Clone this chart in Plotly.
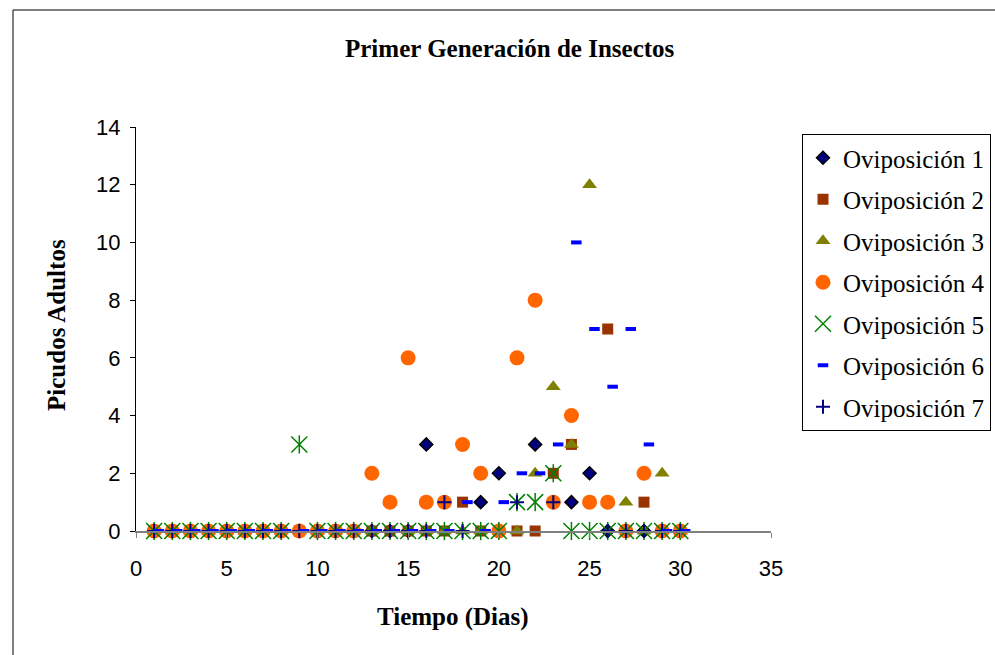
import plotly.graph_objects as go

days = list(range(1, 31))

ovi1 = [0]*15 + [3, None, None, 1, 2, None, 3, None, 1, 2, 0, 0, 0, 0, 0]
ovi2 = [0]*17 + [1, 0, 0, 0, 0, 2, 3, None, 7, 0, 1, 0, 0]
ovi3 = [0]*13 + [1, 0, 0, 0, 0, 0, 0, 0, 2, 5, 3, 12, 1, 1, 0, 2, 0]
ovi4 = [0]*12 + [2, 1, 6, 1, 1, 3, 2, 0, 6, 8, 1, 4, 1, 1, 0, 2, 0, 0]
ovi5 = [0]*8 + [3] + [0]*11 + [1, 1, 2, 0, 0, 0, 0, 0, 0, 0]
ovi6 = [0]*17 + [1, 0, 1, 2, 2, 3, 10, 7, 5, 7, 3, 0, 0]
ovi7 = [0]*16 + [1, 0, None, None, 1, None, 1, None, None, 0, 0, 0, 0, 0]

names = ["Oviposición 1", "Oviposición 2", "Oviposición 3", "Oviposición 4",
         "Oviposición 5", "Oviposición 6", "Oviposición 7"]

x_ticks = [0, 5, 10, 15, 20, 25, 30, 35]
y_ticks = [0, 2, 4, 6, 8, 10, 12, 14]

fig = go.Figure()

def add(y, name, marker, group, showlegend=True, xaxis="x"):
    fig.add_trace(go.Scatter(
        x=days, y=y, name=name, mode="markers", marker=marker,
        legendgroup=group, showlegend=showlegend, cliponaxis=False, xaxis=xaxis))

add(ovi1, names[0], dict(symbol="diamond", size=10, color="#000080",
                         line=dict(color="black", width=1.5)), "g1")
add(ovi2, names[1], dict(symbol="square", size=11, color="#993300",
                         line=dict(width=0)), "g2")
add(ovi3, names[2], dict(symbol="triangle-up", size=13, color="#808000",
                         line=dict(width=0)), "g3")
add(ovi4, names[3], dict(symbol="circle", size=15, color="#FF6600",
                         line=dict(width=0)), "g4")
add(ovi5, names[4], dict(symbol="x-thin-open", size=16, color="#008000",
                         line=dict(color="#008000", width=1.5)), "g5")
add(ovi5, names[4], dict(symbol="line-ns-open", size=13, color="#008000",
                         line=dict(color="#008000", width=1.5)), "g5", showlegend=False)
add(ovi6, names[5], dict(symbol="line-ew-open", size=7.5, color="#0000FF",
                         line=dict(color="#0000FF", width=4)), "g6", xaxis="x2")
add(ovi7, names[6], dict(symbol="cross-thin-open", size=10, color="#000080",
                         line=dict(color="#000080", width=2)), "g7")

serif = "Liberation Serif"
sans = "Liberation Sans"

fig.update_layout(
    width=995, height=655,
    margin=dict(l=136, r=224, t=127, b=124),
    paper_bgcolor="white", plot_bgcolor="white",
    xaxis=dict(range=[0, 35], tickvals=x_ticks, showgrid=False, zeroline=False,
               showline=True, linecolor="#808080", linewidth=1.5,
               ticks="outside", ticklen=5, tickcolor="#808080",
               ticklabelstandoff=12,
               tickfont=dict(family=sans, size=22, color="black")),
    xaxis2=dict(range=[-0.27, 34.73], overlaying="x", visible=False),
    yaxis=dict(range=[0, 14], tickvals=y_ticks, showgrid=False, zeroline=False,
               showline=True, linecolor="black", linewidth=1,
               ticks="outside", ticklen=5, tickcolor="black",
               ticklabelstandoff=5,
               tickfont=dict(family=sans, size=22, color="black")),
    legend=dict(xref="container", yref="container",
                x=802 / 995, y=1 - 134 / 655, xanchor="left", yanchor="top",
                bordercolor="black", borderwidth=1, bgcolor="white",
                font=dict(family=serif, size=25, color="black"),
                tracegroupgap=6, itemwidth=30),
    showlegend=True,
    annotations=[
        dict(text="<b>Primer Generación de Insectos</b>", xref="paper", yref="paper",
             x=0.589, y=1.1955, showarrow=False, xanchor="center", yanchor="middle",
             font=dict(family=serif, size=25, color="black")),
        dict(text="<b>Tiempo (Dias)</b>", xref="paper", yref="paper",
             x=0.4992, y=-0.213, showarrow=False, xanchor="center", yanchor="middle",
             font=dict(family=serif, size=25, color="black")),
        dict(text="<b>Picudos Adultos</b>", xref="paper", yref="paper",
             x=-0.1244, y=0.51, showarrow=False, xanchor="center", yanchor="middle",
             textangle=-90, font=dict(family=serif, size=25, color="black")),
    ],
    shapes=[
        dict(type="rect", xref="paper", yref="paper",
             x0=(13 - 136) / 635, x1=(1010 - 136) / 635,
             y0=(531 - 670) / 404, y1=(531 - 10) / 404,
             line=dict(color="black", width=1), fillcolor="rgba(0,0,0,0)", layer="below"),
    ],
)

fig.write_html("out.html")
